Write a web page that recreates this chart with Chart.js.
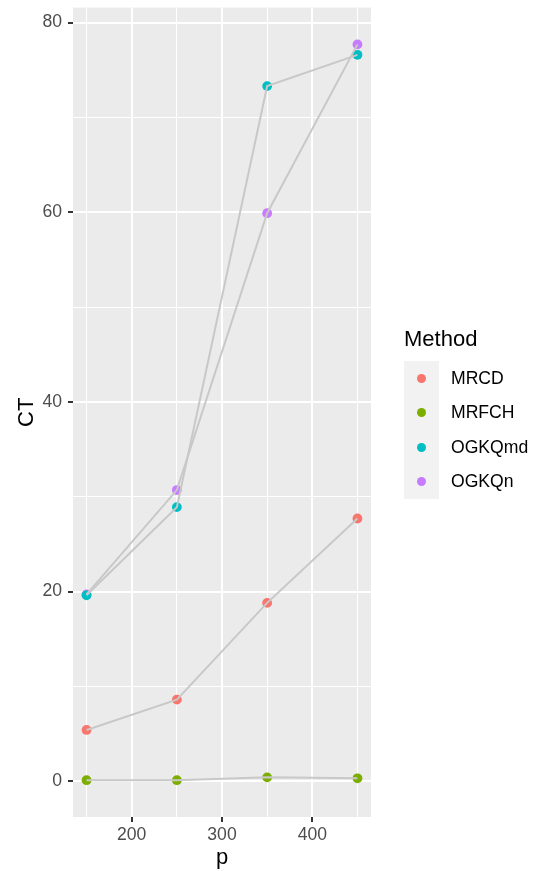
<!DOCTYPE html>
<html>
<head>
<meta charset="utf-8">
<script src="https://cdn.jsdelivr.net/npm/chart.js@4.4.1/dist/chart.umd.min.js"></script>
<style>
  body { margin: 0; background: #fff; }
  #wrap { position: relative; width: 538px; height: 871px; }
  #legend { position: absolute; left: 404px; top: 326px; font-family: "Liberation Sans", Arial, sans-serif; }
  #legend .title { font-size: 22px; color: #000; margin-bottom: 9px; }
  #legend .row { height: 34.5px; display: flex; align-items: center; }
  #legend .key { width: 35px; height: 34.5px; background: #F2F2F2; display: flex; align-items: center; justify-content: center; }
  #legend .dot { width: 9px; height: 9px; border-radius: 50%; }
  #legend .lab { font-size: 17.6px; color: #000; margin-left: 12px; }
</style>
</head>
<body>
<div id="wrap">
  <canvas id="chart" width="538" height="871"></canvas>
  <div id="legend"></div>
</div>
<script>
const p = [150, 250, 350, 450];
const methods = ["MRCD", "MRFCH", "OGKQmd", "OGKQn"];
const colors = ["#F8766D", "#7CAE00", "#00BFC4", "#C77CFF"];
const mrcd = [5.4, 8.6, 18.8, 27.7];
const mrfch = [0.1, 0.1, 0.4, 0.3];
const ogkqmd = [19.6, 28.9, 73.3, 76.6];
const ogkqn = [19.7, 30.7, 59.9, 77.7];
const series = [mrcd, mrfch, ogkqmd, ogkqn];
const xTicks = [150, 200, 250, 300, 350, 400, 450];
const yTicks = [0, 10, 20, 30, 40, 50, 60, 70, 80];

// points drawn under the grey lines; cyan on top of purple
const pointOrder = [4, 3, 1, 2];

const datasets = [];
series.forEach((vals, i) => {
  datasets.push({
    label: methods[i] + " line",
    data: vals.map((v, j) => ({ x: p[j], y: v })),
    showLine: true,
    borderColor: "#C8C8C8",
    borderWidth: 2,
    pointRadius: 0,
    order: 0
  });
  datasets.push({
    label: methods[i],
    data: vals.map((v, j) => ({ x: p[j], y: v })),
    showLine: false,
    backgroundColor: colors[i],
    borderWidth: 0,
    pointRadius: 4.9,
    order: pointOrder[i]
  });
});

const panelBg = {
  id: "panelBg",
  beforeDraw(chart) {
    const { ctx, chartArea: a } = chart;
    ctx.save();
    ctx.fillStyle = "#EBEBEB";
    ctx.fillRect(a.left, a.top, a.right - a.left, a.bottom - a.top);
    ctx.restore();
  }
};

const font = "'Liberation Sans', Arial, sans-serif";

new Chart(document.getElementById("chart"), {
  type: "scatter",
  data: { datasets },
  plugins: [panelBg],
  options: {
    responsive: false,
    animation: false,
    devicePixelRatio: 1,
    layout: { padding: { top: 7.6, right: 167, bottom: 0, left: 0 } },
    plugins: { legend: { display: false }, tooltip: { enabled: false } },
    scales: {
      x: {
        type: "linear",
        min: 135,
        max: 465,
        afterBuildTicks: (s) => { s.ticks = xTicks.map(v => ({ value: v })); },
        afterFit: (s) => { s.height = 54; s.paddingLeft = 0; s.paddingRight = 0; },
        border: { display: false },
        grid: {
          color: "#FFFFFF",
          lineWidth: (c) => c.tick && c.tick.value % 100 === 0 ? 2 : 1,
          tickColor: (c) => c.tick && c.tick.value % 100 === 0 ? "#333333" : "rgba(0,0,0,0)",
          tickLength: 5,
          tickWidth: 2
        },
        ticks: {
          autoSkip: false,
          maxRotation: 0,
          padding: 3,
          color: "#4D4D4D",
          font: { family: font, size: 17.6 },
          callback: (v) => v % 100 === 0 ? String(v) : ""
        },
        title: {
          display: true,
          text: "p",
          color: "#000",
          font: { family: font, size: 22 },
          padding: { top: 5, bottom: 0 }
        }
      },
      y: {
        type: "linear",
        min: -3.78,
        max: 81.58,
        afterBuildTicks: (s) => { s.ticks = yTicks.map(v => ({ value: v })); },
        afterFit: (s) => { s.width = 73; s.paddingTop = 0; s.paddingBottom = 0; },
        border: { display: false },
        grid: {
          color: "#FFFFFF",
          lineWidth: (c) => c.tick && c.tick.value % 20 === 0 ? 2 : 1,
          tickColor: (c) => c.tick && c.tick.value % 20 === 0 ? "#333333" : "rgba(0,0,0,0)",
          tickLength: 5,
          tickWidth: 2
        },
        ticks: {
          autoSkip: false,
          padding: 6,
          color: "#4D4D4D",
          font: { family: font, size: 17.6 },
          callback: (v) => v % 20 === 0 ? String(v) : ""
        },
        title: {
          display: true,
          text: "CT",
          color: "#000",
          font: { family: font, size: 22 },
          padding: { top: 14, bottom: 0 }
        }
      }
    }
  }
});

const legend = document.getElementById("legend");
let html = '<div class="title">Method</div>';
methods.forEach((m, i) => {
  html += '<div class="row"><div class="key"><div class="dot" style="background:' + colors[i] +
    '"></div></div><div class="lab">' + m + '</div></div>';
});
legend.innerHTML = html;
</script>
</body>
</html>
